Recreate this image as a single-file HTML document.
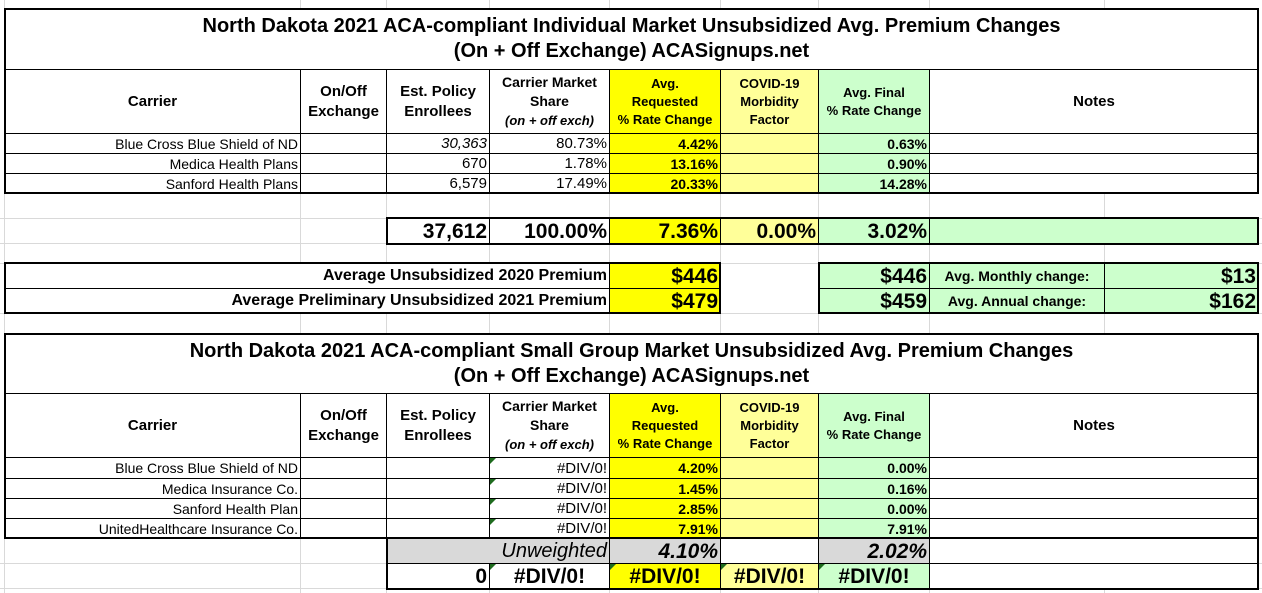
<!DOCTYPE html>
<html><head><meta charset="utf-8"><style>
body{margin:0;width:1262px;height:593px;overflow:hidden;background:#fff;font-family:"Liberation Sans",Arial,sans-serif;position:relative}
.g{position:absolute;background:#d9d9d9}
.c{position:absolute;box-sizing:border-box;border:1px solid #000;display:flex;align-items:center;justify-content:flex-end;padding:0 2px;font-size:14px;white-space:nowrap;line-height:1;background:#fff}
.h{justify-content:center;text-align:center;font-weight:bold;flex-direction:column}
.b{font-weight:bold}
.big{font-size:21px;font-weight:bold}
.T{position:absolute;box-sizing:border-box;border:2px solid #000}
.y{background:#ffff00}.ly{background:#ffff99}.gr{background:#ccffcc}.gy{background:#d9d9d9}
.t{justify-content:center;flex-direction:column;font-size:20px;font-weight:bold;line-height:25px}
.n{font-size:14px}
.tri{position:absolute;width:0;height:0;border-top:6px solid #1e6b1e;border-right:6px solid transparent}
</style></head><body>
<div class="g" style="left:300px;top:0;width:1px;height:593px"></div>
<div class="g" style="left:386px;top:0;width:1px;height:593px"></div>
<div class="g" style="left:489px;top:0;width:1px;height:593px"></div>
<div class="g" style="left:609px;top:0;width:1px;height:593px"></div>
<div class="g" style="left:720px;top:0;width:1px;height:593px"></div>
<div class="g" style="left:818px;top:0;width:1px;height:593px"></div>
<div class="g" style="left:929px;top:0;width:1px;height:593px"></div>
<div class="g" style="left:1104px;top:0;width:1px;height:593px"></div>
<div class="g" style="left:4px;top:0;width:1px;height:593px"></div>
<div class="g" style="left:0;top:218px;width:1262px;height:1px"></div>
<div class="g" style="left:0;top:243px;width:1262px;height:1px"></div>
<div class="g" style="left:0;top:263px;width:1262px;height:1px"></div>
<div class="g" style="left:0;top:313px;width:1262px;height:1px"></div>
<div class="g" style="left:0;top:563px;width:1262px;height:1px"></div>
<div class="g" style="left:0;top:588px;width:1262px;height:1px"></div>

<div class="c t" style="left:4px;top:8px;width:1255px;height:62px"><div>North Dakota 2021 ACA-compliant Individual Market Unsubsidized Avg. Premium Changes</div><div>(On + Off Exchange) ACASignups.net</div></div>
<div class="c h" style="left:4px;top:69px;width:297px;height:65px;font-size:15px">Carrier</div>
<div class="c h" style="left:300px;top:69px;width:87px;height:65px;font-size:15px;line-height:20px">On/Off<br>Exchange</div>
<div class="c h" style="left:386px;top:69px;width:104px;height:65px;font-size:15px;line-height:20px">Est. Policy<br>Enrollees</div>
<div class="c h" style="left:489px;top:69px;width:121px;height:65px;line-height:19px">Carrier Market<br>Share<br><i style="font-size:13px">(on + off exch)</i></div>
<div class="c h y" style="left:609px;top:69px;width:112px;height:65px;font-size:13px;line-height:18px">Avg.<br>Requested<br>% Rate Change</div>
<div class="c h ly" style="left:720px;top:69px;width:99px;height:65px;font-size:13px;line-height:18px">COVID-19<br>Morbidity<br>Factor</div>
<div class="c h gr" style="left:818px;top:69px;width:112px;height:65px;font-size:13px;line-height:18px">Avg. Final<br>% Rate Change</div>
<div class="c h" style="left:929px;top:69px;width:330px;height:65px;font-size:15px">Notes</div>

<div class="c n" style="left:4px;top:133px;width:297px;height:21px">Blue Cross Blue Shield of ND</div>
<div class="c" style="left:300px;top:133px;width:87px;height:21px"></div>
<div class="c" style="left:386px;top:133px;width:104px;height:21px;font-style:italic;font-size:15px">30,363</div>
<div class="c" style="left:489px;top:133px;width:121px;height:21px;font-size:15px">80.73%</div>
<div class="c y b" style="left:609px;top:133px;width:112px;height:21px">4.42%</div>
<div class="c ly" style="left:720px;top:133px;width:99px;height:21px"></div>
<div class="c gr b" style="left:818px;top:133px;width:112px;height:21px">0.63%</div>
<div class="c" style="left:929px;top:133px;width:330px;height:21px"></div>

<div class="c n" style="left:4px;top:153px;width:297px;height:21px">Medica Health Plans</div>
<div class="c" style="left:300px;top:153px;width:87px;height:21px"></div>
<div class="c" style="left:386px;top:153px;width:104px;height:21px;font-size:15px">670</div>
<div class="c" style="left:489px;top:153px;width:121px;height:21px;font-size:15px">1.78%</div>
<div class="c y b" style="left:609px;top:153px;width:112px;height:21px">13.16%</div>
<div class="c ly" style="left:720px;top:153px;width:99px;height:21px"></div>
<div class="c gr b" style="left:818px;top:153px;width:112px;height:21px">0.90%</div>
<div class="c" style="left:929px;top:153px;width:330px;height:21px"></div>

<div class="c n" style="left:4px;top:173px;width:297px;height:21px">Sanford Health Plans</div>
<div class="c" style="left:300px;top:173px;width:87px;height:21px"></div>
<div class="c" style="left:386px;top:173px;width:104px;height:21px;font-size:15px">6,579</div>
<div class="c" style="left:489px;top:173px;width:121px;height:21px;font-size:15px">17.49%</div>
<div class="c y b" style="left:609px;top:173px;width:112px;height:21px">20.33%</div>
<div class="c ly" style="left:720px;top:173px;width:99px;height:21px"></div>
<div class="c gr b" style="left:818px;top:173px;width:112px;height:21px">14.28%</div>
<div class="c" style="left:929px;top:173px;width:330px;height:21px"></div>
<div class="T" style="left:4px;top:8px;width:1255px;height:186px"></div>

<div class="c big" style="left:386px;top:218px;width:104px;height:26px">37,612</div>
<div class="c big" style="left:489px;top:218px;width:121px;height:26px">100.00%</div>
<div class="c big y" style="left:609px;top:218px;width:112px;height:26px">7.36%</div>
<div class="c big ly" style="left:720px;top:218px;width:99px;height:26px">0.00%</div>
<div class="c big gr" style="left:818px;top:218px;width:112px;height:26px">3.02%</div>
<div class="c gr" style="left:929px;top:218px;width:330px;height:26px"></div>
<div class="T" style="left:386px;top:217px;width:873px;height:28px"></div>

<div class="c b" style="left:4px;top:263px;width:606px;height:26px;font-size:16px">Average Unsubsidized 2020 Premium</div>
<div class="c big y" style="left:609px;top:263px;width:112px;height:26px">$446</div>
<div class="c b" style="left:4px;top:288px;width:606px;height:26px;font-size:16px">Average Preliminary Unsubsidized 2021 Premium</div>
<div class="c big y" style="left:609px;top:288px;width:112px;height:26px">$479</div>
<div class="T" style="left:4px;top:262px;width:717px;height:52px"></div>
<div class="c big gr" style="left:818px;top:263px;width:112px;height:26px">$446</div>
<div class="c b gr" style="left:929px;top:263px;width:176px;height:26px;justify-content:center;font-size:14px">Avg. Monthly change:</div>
<div class="c big gr" style="left:1104px;top:263px;width:155px;height:26px">$13</div>
<div class="c big gr" style="left:818px;top:288px;width:112px;height:26px">$459</div>
<div class="c b gr" style="left:929px;top:288px;width:176px;height:26px;justify-content:center;font-size:14px">Avg. Annual change:</div>
<div class="c big gr" style="left:1104px;top:288px;width:155px;height:26px">$162</div>
<div class="T" style="left:818px;top:262px;width:441px;height:52px"></div>

<div class="c t" style="left:4px;top:333px;width:1255px;height:61px"><div>North Dakota 2021 ACA-compliant Small Group Market Unsubsidized Avg. Premium Changes</div><div>(On + Off Exchange) ACASignups.net</div></div>
<div class="c h" style="left:4px;top:393px;width:297px;height:65px;font-size:15px">Carrier</div>
<div class="c h" style="left:300px;top:393px;width:87px;height:65px;font-size:15px;line-height:20px">On/Off<br>Exchange</div>
<div class="c h" style="left:386px;top:393px;width:104px;height:65px;font-size:15px;line-height:20px">Est. Policy<br>Enrollees</div>
<div class="c h" style="left:489px;top:393px;width:121px;height:65px;line-height:19px">Carrier Market<br>Share<br><i style="font-size:13px">(on + off exch)</i></div>
<div class="c h y" style="left:609px;top:393px;width:112px;height:65px;font-size:13px;line-height:18px">Avg.<br>Requested<br>% Rate Change</div>
<div class="c h ly" style="left:720px;top:393px;width:99px;height:65px;font-size:13px;line-height:18px">COVID-19<br>Morbidity<br>Factor</div>
<div class="c h gr" style="left:818px;top:393px;width:112px;height:65px;font-size:13px;line-height:18px">Avg. Final<br>% Rate Change</div>
<div class="c h" style="left:929px;top:393px;width:330px;height:65px;font-size:15px">Notes</div>

<div class="c n" style="left:4px;top:457px;width:297px;height:22px">Blue Cross Blue Shield of ND</div>
<div class="c" style="left:300px;top:457px;width:87px;height:22px"></div>
<div class="c" style="left:386px;top:457px;width:104px;height:22px"></div>
<div class="c" style="left:489px;top:457px;width:121px;height:22px;font-size:15px">#DIV/0!</div>
<div class="c y b" style="left:609px;top:457px;width:112px;height:22px">4.20%</div>
<div class="c ly" style="left:720px;top:457px;width:99px;height:22px"></div>
<div class="c gr b" style="left:818px;top:457px;width:112px;height:22px">0.00%</div>
<div class="c" style="left:929px;top:457px;width:330px;height:22px"></div>

<div class="c n" style="left:4px;top:478px;width:297px;height:21px">Medica Insurance Co.</div>
<div class="c" style="left:300px;top:478px;width:87px;height:21px"></div>
<div class="c" style="left:386px;top:478px;width:104px;height:21px"></div>
<div class="c" style="left:489px;top:478px;width:121px;height:21px;font-size:15px">#DIV/0!</div>
<div class="c y b" style="left:609px;top:478px;width:112px;height:21px">1.45%</div>
<div class="c ly" style="left:720px;top:478px;width:99px;height:21px"></div>
<div class="c gr b" style="left:818px;top:478px;width:112px;height:21px">0.16%</div>
<div class="c" style="left:929px;top:478px;width:330px;height:21px"></div>

<div class="c n" style="left:4px;top:498px;width:297px;height:21px">Sanford Health Plan</div>
<div class="c" style="left:300px;top:498px;width:87px;height:21px"></div>
<div class="c" style="left:386px;top:498px;width:104px;height:21px"></div>
<div class="c" style="left:489px;top:498px;width:121px;height:21px;font-size:15px">#DIV/0!</div>
<div class="c y b" style="left:609px;top:498px;width:112px;height:21px">2.85%</div>
<div class="c ly" style="left:720px;top:498px;width:99px;height:21px"></div>
<div class="c gr b" style="left:818px;top:498px;width:112px;height:21px">0.00%</div>
<div class="c" style="left:929px;top:498px;width:330px;height:21px"></div>

<div class="c n" style="left:4px;top:518px;width:297px;height:21px">UnitedHealthcare Insurance Co.</div>
<div class="c" style="left:300px;top:518px;width:87px;height:21px"></div>
<div class="c" style="left:386px;top:518px;width:104px;height:21px"></div>
<div class="c" style="left:489px;top:518px;width:121px;height:21px;font-size:15px">#DIV/0!</div>
<div class="c y b" style="left:609px;top:518px;width:112px;height:21px">7.91%</div>
<div class="c ly" style="left:720px;top:518px;width:99px;height:21px"></div>
<div class="c gr b" style="left:818px;top:518px;width:112px;height:21px">7.91%</div>
<div class="c" style="left:929px;top:518px;width:330px;height:21px"></div>
<div class="tri" style="left:490px;top:458px"></div>
<div class="tri" style="left:490px;top:479px"></div>
<div class="tri" style="left:490px;top:499px"></div>
<div class="tri" style="left:490px;top:519px"></div>
<div class="T" style="left:4px;top:333px;width:1255px;height:206px"></div>

<div class="c gy" style="left:386px;top:538px;width:224px;height:26px;font-size:20px;font-style:italic">Unweighted</div>
<div class="c gy" style="left:609px;top:538px;width:112px;height:26px;font-size:21px;font-style:italic;font-weight:bold">4.10%</div>
<div class="c" style="left:720px;top:538px;width:99px;height:26px"></div>
<div class="c gy" style="left:818px;top:538px;width:112px;height:26px;font-size:21px;font-style:italic;font-weight:bold">2.02%</div>
<div class="c" style="left:929px;top:538px;width:330px;height:26px"></div>

<div class="c big" style="left:386px;top:563px;width:104px;height:26px">0</div>
<div class="c big" style="left:489px;top:563px;width:121px;height:26px;justify-content:center">#DIV/0!</div>
<div class="c big y" style="left:609px;top:563px;width:112px;height:26px;justify-content:center">#DIV/0!</div>
<div class="c big ly" style="left:720px;top:563px;width:99px;height:26px;justify-content:center">#DIV/0!</div>
<div class="c big gr" style="left:818px;top:563px;width:112px;height:26px;justify-content:center">#DIV/0!</div>
<div class="c" style="left:929px;top:563px;width:330px;height:26px"></div>
<div class="tri" style="left:490px;top:564px"></div>
<div class="tri" style="left:610px;top:564px"></div>
<div class="tri" style="left:721px;top:564px"></div>
<div class="tri" style="left:819px;top:564px"></div>
<div class="T" style="left:386px;top:537px;width:873px;height:53px"></div>
</body></html>
